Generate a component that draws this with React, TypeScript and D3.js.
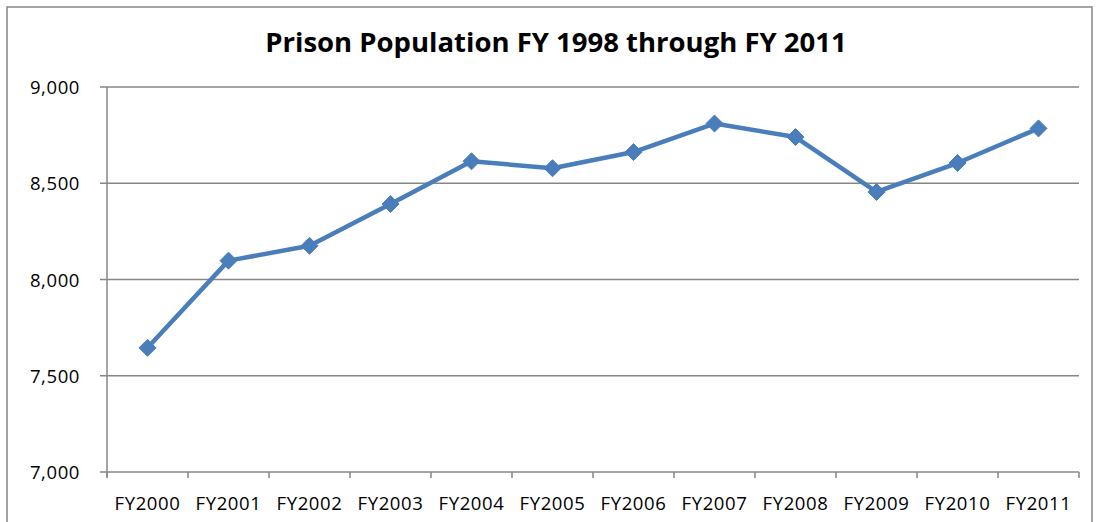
import React from "react";
import * as d3 from "d3";

const categories = ["FY2000","FY2001","FY2002","FY2003","FY2004","FY2005","FY2006","FY2007","FY2008","FY2009","FY2010","FY2011"];
const population = [7645, 8098, 8175, 8392, 8614, 8578, 8662, 8810, 8740, 8455, 8605, 8785];
const yTicks = [7000, 7500, 8000, 8500, 9000];
const title = "Prison Population FY 1998 through FY 2011";

const W = 1096, H = 522;
const left = 107, right = 1079, top = 87, bottom = 472;

export default function App() {
  const x = d3.scaleBand().domain(categories).range([left, right]);
  const y = d3.scaleLinear().domain([7000, 9000]).range([bottom, top]);
  const fmt = d3.format(",");
  const line = d3.line<number>().x((_, i) => x(categories[i])! + x.bandwidth() / 2).y(d => y(d));
  const grid = "#868686";
  const font = "'Open Sans', 'DejaVu Sans', sans-serif";
  const tickXs = categories.map(c => x(c)!).concat([right]);
  return (
    <svg width={W} height={H} style={{ position: "absolute", left: 0, top: 0, display: "block" }}>
      <rect x={0} y={0} width={W} height={H} fill="white" />
      <rect x={7} y={7} width={1085} height={540} fill="white" stroke={grid} strokeWidth={1.5} />
      <text x={556} y={52} textAnchor="middle" fontFamily={font} fontWeight="bold" fontSize={27.5} fill="#000">{title}</text>
      {yTicks.map(t => (
        <g key={t}>
          <line x1={100} x2={right} y1={y(t)} y2={y(t)} stroke={grid} strokeWidth={1.5} />
          <text x={80} y={y(t) + 7} textAnchor="end" fontFamily={font} fontSize={18.5} letterSpacing={0.6} fill="#000">{fmt(t)}</text>
        </g>
      ))}
      <line x1={left} x2={left} y1={top} y2={bottom + 5} stroke={grid} strokeWidth={1.5} />
      {tickXs.map((tx, i) => (
        <line key={i} x1={tx} x2={tx} y1={bottom} y2={bottom + 6} stroke={grid} strokeWidth={1.5} />
      ))}
      {categories.map(c => (
        <text key={c} x={x(c)! + x.bandwidth() / 2} y={510} textAnchor="middle" fontFamily={font} fontSize={18.5} letterSpacing={0.6} fill="#000">{c}</text>
      ))}
      <path d={line(population)!} fill="none" stroke="#4a7ebb" strokeWidth={4.5} strokeLinejoin="round" />
      {population.map((v, i) => {
        const cx = x(categories[i])! + x.bandwidth() / 2, cy = y(v);
        const s = 8.5;
        return <path key={i} d={`M${cx},${cy - s}L${cx + s},${cy}L${cx},${cy + s}L${cx - s},${cy}Z`} fill="#4a7ebb" stroke="#4a7ebb" strokeWidth={1} />;
      })}
    </svg>
  );
}
